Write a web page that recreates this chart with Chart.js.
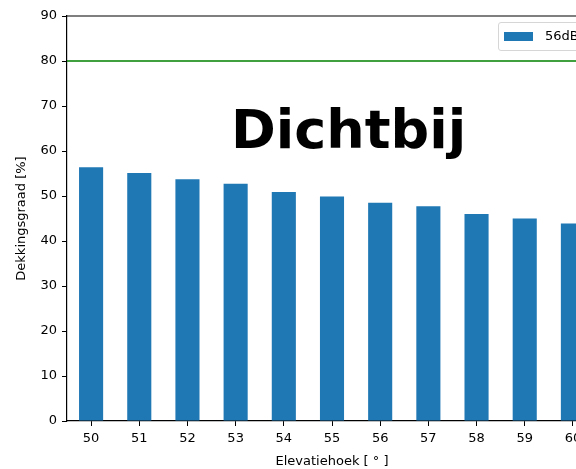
<!DOCTYPE html>
<html>
<head>
<meta charset="utf-8">
<script src="https://cdn.jsdelivr.net/npm/chart.js@4/dist/chart.umd.min.js"></script>
<style>
  html, body { margin: 0; padding: 0; background: #fff; overflow: hidden; }
  #wrap { position: absolute; left: 0; top: 0; width: 600px; height: 469px; }
  #title {
    position: absolute; left: 231px; top: 103px;
    font-family: "DejaVu Sans", sans-serif; font-weight: bold; font-size: 54px;
    color: #000; white-space: nowrap; line-height: 1;
  }
  #legend {
    position: absolute; left: 498px; top: 22px; width: 92px; height: 27px;
    border: 1px solid #d6d6d6; border-radius: 3px; background: rgba(255,255,255,0.8);
    font-family: "DejaVu Sans", sans-serif; font-size: 13px; color: #000;
  }
  #legend .patch { position: absolute; left: 5px; top: 9px; width: 29px; height: 9px; background: #1f77b4; }
  #legend .lbl { position: absolute; left: 46px; top: 5px; white-space: nowrap; }
</style>
</head>
<body>
<div id="wrap"><canvas id="chart"></canvas></div>
<div id="legend"><span class="patch"></span><span class="lbl">56dB</span></div>
<div id="title">Dichtbij</div>
<script>
// Elevation angles and coverage values
const angles = ['50', '51', '52', '53', '54', '55', '56', '57', '58', '59', '60'];
const coverage = [56.4, 55.1, 53.7, 52.7, 50.9, 49.9, 48.5, 47.7, 46.0, 45.0, 43.9];
const yTicks = [0, 10, 20, 30, 40, 50, 60, 70, 80, 90];
const threshold = 80;

const font = { family: 'DejaVu Sans', size: 13 };

// green threshold line + top spine
const extras = {
  id: 'extras',
  afterDatasetsDraw(chart) {
    const { ctx, chartArea, scales } = chart;
    ctx.save();
    const y = scales.y.getPixelForValue(threshold);
    ctx.strokeStyle = '#008000';
    ctx.lineWidth = 1.5;
    ctx.beginPath();
    ctx.moveTo(chartArea.left, y);
    ctx.lineTo(chartArea.right, y);
    ctx.stroke();
    ctx.strokeStyle = '#000';
    ctx.lineWidth = 1.2;
    ctx.beginPath();
    ctx.moveTo(chartArea.left, chartArea.top);
    ctx.lineTo(chartArea.right, chartArea.top);
    ctx.lineTo(chartArea.right, chartArea.bottom);
    ctx.stroke();
    ctx.restore();
  }
};

new Chart(document.getElementById('chart'), {
  type: 'bar',
  data: {
    labels: angles,
    datasets: [{
      label: '56dB',
      data: coverage,
      backgroundColor: '#1f77b4',
      categoryPercentage: 1.0,
      barPercentage: 0.5
    }]
  },
  options: {
    responsive: true,
    maintainAspectRatio: false,
    animation: false,
    layout: { padding: { top: 16, left: 0, right: 3, bottom: 0 } },
    plugins: { legend: { display: false }, tooltip: { enabled: false } },
    scales: {
      x: {
        grid: { offset: false, drawOnChartArea: false, drawTicks: true, tickLength: 5, tickColor: '#000' },
        border: { color: '#000', width: 1.2 },
        ticks: { color: '#000', font: font, padding: 5, maxRotation: 0 },
        title: { display: true, text: 'Elevatiehoek [ ° ]', color: '#000', font: font, padding: { top: 2, bottom: 0 } },
        afterFit(scale) { scale.height = 48; }
      },
      y: {
        min: 0,
        max: 90,
        afterBuildTicks(scale) { scale.ticks = yTicks.map(v => ({ value: v })); },
        grid: { drawOnChartArea: false, drawTicks: true, tickLength: 5, tickColor: '#000' },
        border: { color: '#000', width: 1.2 },
        ticks: { color: '#000', font: font, padding: 5 },
        title: { display: true, text: 'Dekkingsgraad [%]', color: '#000', font: font, padding: { top: 14, bottom: 4 } },
        afterFit(scale) { scale.width = 67; }
      }
    }
  },
  plugins: [extras]
});
</script>
</body>
</html>
